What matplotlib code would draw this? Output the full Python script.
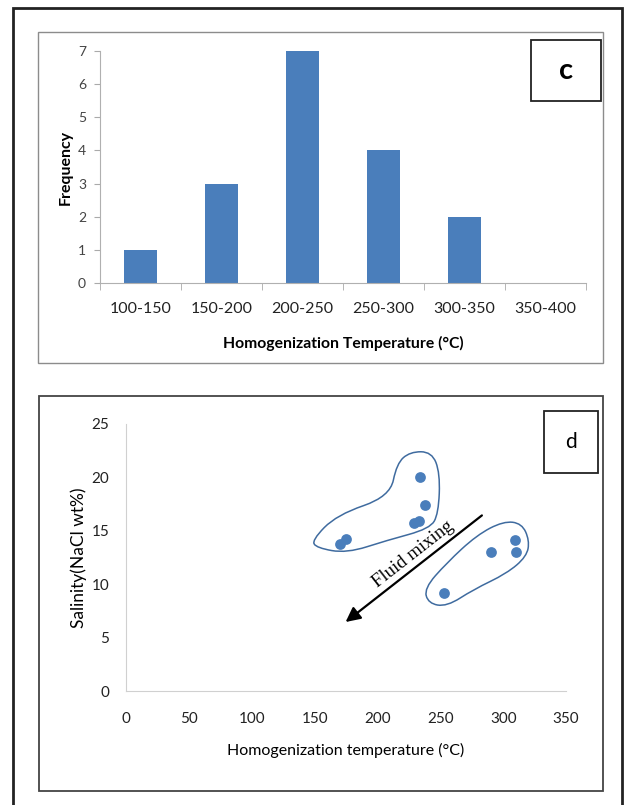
import matplotlib.pyplot as plt
from matplotlib.patches import Rectangle, PathPatch
from matplotlib.path import Path

# panel c - histogram of homogenization temperature
bins = ["100-150", "150-200", "200-250", "250-300", "300-350", "350-400"]
freq = [1, 3, 7, 4, 2, 0]

# panel d - salinity vs homogenization temperature
temp = [234, 238, 229, 233, 170, 175, 290, 309, 310, 253]
salinity = [20.0, 17.4, 15.7, 15.9, 13.8, 14.2, 13.0, 14.1, 13.0, 9.2]

# hand drawn envelopes around the two groups (data coords)
group1 = [(147.7, 14.1), (167.6, 16.5), (210.0, 18.2), (215.3, 21.3), (225.9, 22.4),
          (243.2, 22.4), (249.8, 20.4), (248.5, 16.6), (241.8, 15.2), (207.4, 14.1),
          (175.5, 12.9), (151.7, 13.4)]
group2 = [(237.1, 9.6), (255.1, 12.0), (279.0, 14.6), (300.2, 15.9), (314.8, 15.7),
          (320.9, 14.1), (318.7, 12.6), (302.8, 11.0), (276.3, 9.5), (255.1, 7.9),
          (240.5, 8.2)]

BLUE = "#4A7EBB"
plt.rcParams['font.family'] = ['Lato', 'DejaVu Sans']


def smooth_loop(pts):
    # closed quadratic curve through the midpoints of the control polygon
    n = len(pts)
    mids = [((pts[i][0] + pts[(i + 1) % n][0]) / 2, (pts[i][1] + pts[(i + 1) % n][1]) / 2) for i in range(n)]
    verts = [mids[-1]]
    codes = [Path.MOVETO]
    for i in range(n):
        verts += [pts[i], mids[i]]
        codes += [Path.CURVE3, Path.CURVE3]
    return Path(verts, codes)


fig = plt.figure(figsize=(6.27, 8.05), dpi=100)

# frames
fig.patches.append(Rectangle((0.0207, -0.02), 0.9713, 1.01, transform=fig.transFigure,
                             fill=False, ec="#222222", lw=2))
fig.patches.append(Rectangle((0.0606, 0.549), 0.9011, 0.4112, transform=fig.transFigure,
                             fill=False, ec="#8c8c8c", lw=1))
fig.patches.append(Rectangle((0.0622, 0.0174), 0.8995, 0.4907, transform=fig.transFigure,
                             fill=False, ec="#444444", lw=1.3))

# ---- panel c
ax1 = fig.add_axes([0.1595, 0.6484, 0.775, 0.2882])
x = list(range(len(bins)))
ax1.bar(x, freq, width=0.4, color=BLUE)
ax1.set_xlim(-0.5, len(bins) - 0.5)
ax1.set_ylim(0, 7)
ax1.set_yticks(range(0, 8))
ax1.set_xticks(x)
ax1.set_xticklabels(bins, fontsize=11.5, color="#222222")
ax1.set_xticks([i - 0.5 for i in range(len(bins) + 1)], minor=True)
ax1.tick_params(axis='x', which='major', length=0, pad=14)
ax1.tick_params(axis='x', which='minor', length=5, color="#aaaaaa")
ax1.tick_params(axis='y', length=4, color="#aaaaaa", labelsize=10, labelcolor="#444444", pad=6)
for s in ["top", "right"]:
    ax1.spines[s].set_visible(False)
for s in ["left", "bottom"]:
    ax1.spines[s].set_color("#b0b0b0")
ax1.set_ylabel("Frequency", fontsize=11.5, fontweight="bold", labelpad=4)
ax1.set_xlabel("Homogenization Temperature (°C)", fontsize=11.3, fontweight="bold", labelpad=14)

fig.patches.append(Rectangle((0.8469, 0.8745), 0.1116, 0.0758, transform=fig.transFigure,
                             fill=False, ec="#222222", lw=1.3))
fig.text(0.8469 + 0.0558, 0.8745 + 0.0379, "c", fontsize=21, fontweight="bold",
         ha="center", va="center")

# ---- panel d
ax2 = fig.add_axes([0.201, 0.1416, 0.7018, 0.3317])
for grp in [group1, group2]:
    ax2.add_patch(PathPatch(smooth_loop(grp), fill=False, ec="#3f6b9f", lw=1.1))
ax2.scatter(temp, salinity, s=60, color=BLUE, zorder=3, linewidths=0)
ax2.annotate("", xy=(172.9, 6.3), xytext=(284.8, 16.6),
             arrowprops=dict(arrowstyle="-|>", color="black", lw=1.6, mutation_scale=22))
ax2.text(228.3, 12.8, "Fluid mixing", rotation=38, fontsize=13.5,
         family="Liberation Serif", ha="center", va="center", rotation_mode="anchor")
ax2.set_xlim(0, 350)
ax2.set_ylim(0, 25)
ax2.set_xticks(range(0, 351, 50))
ax2.set_yticks(range(0, 26, 5))
ax2.tick_params(length=0, labelsize=11, labelcolor="#222222")
ax2.tick_params(axis='x', pad=15)
ax2.tick_params(axis='y', pad=12)
for s in ["top", "right"]:
    ax2.spines[s].set_visible(False)
for s in ["left", "bottom"]:
    ax2.spines[s].set_color("#d0d0d0")
ax2.set_ylabel("Salinity(NaCl wt%)", fontsize=12.5, labelpad=3)
ax2.set_xlabel("Homogenization temperature (°C)", fontsize=11.5, labelpad=12)

fig.patches.append(Rectangle((0.8676, 0.4124), 0.0861, 0.077, transform=fig.transFigure,
                             fill=False, ec="#222222", lw=1.3))
fig.text(0.8676 + 0.043, 0.4124 + 0.0385, "d", fontsize=15, ha="center", va="center")

fig.savefig("out.png", dpi=100)
